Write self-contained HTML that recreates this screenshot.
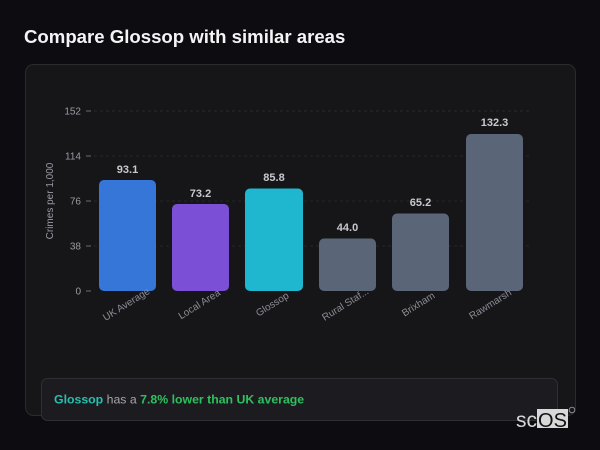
<!DOCTYPE html>
<html><head><meta charset="utf-8"><style>
html,body{margin:0;padding:0;background:#0d0d11;}
svg{display:block;}
</style></head><body>
<svg width="600" height="450" viewBox="0 0 600 450" xmlns="http://www.w3.org/2000/svg" font-family="'Liberation Sans', sans-serif">
<rect x="0" y="0" width="600" height="450" fill="#0d0d11"/>
<text x="24" y="43" font-size="18.6" font-weight="bold" fill="#f4f4f6">Compare Glossop with similar areas</text>
<rect x="25.5" y="64.5" width="550" height="351" rx="8" fill="#161619" stroke="#2a2a2f" stroke-width="1"/>
<!-- grid -->
<g stroke="#25252a" stroke-width="1" stroke-dasharray="3,3">
<line x1="94" y1="111" x2="530" y2="111" stroke="#2a2a30"/>
<line x1="94" y1="156" x2="530" y2="156"/>
<line x1="94" y1="201" x2="530" y2="201"/>
<line x1="94" y1="246" x2="530" y2="246"/>
</g>
<g stroke="#6a6a72" stroke-width="1">
<line x1="86" y1="111" x2="91" y2="111"/>
<line x1="86" y1="156" x2="91" y2="156"/>
<line x1="86" y1="201" x2="91" y2="201"/>
<line x1="86" y1="246" x2="91" y2="246"/>
<line x1="86" y1="291" x2="91" y2="291"/>
</g>
<g font-size="10" fill="#9a9aa2" text-anchor="end">
<text x="81" y="114.5">152</text>
<text x="81" y="159.5">114</text>
<text x="81" y="204.5">76</text>
<text x="81" y="249.5">38</text>
<text x="81" y="294.5">0</text>
</g>
<text transform="translate(53,201) rotate(-90)" text-anchor="middle" font-size="10" fill="#9a9aa2">Crimes per 1,000</text>
<!-- bars -->
<rect x="99" y="180" width="57" height="111" rx="5" fill="#3676d9"/>
<rect x="172" y="204" width="57" height="87" rx="5" fill="#7b50d6"/>
<rect x="245" y="188.5" width="58" height="102.5" rx="5" fill="#1fb7d0"/>
<rect x="319" y="238.5" width="57" height="52.5" rx="5" fill="#5a6577"/>
<rect x="392" y="213.5" width="57" height="77.5" rx="5" fill="#5a6577"/>
<rect x="466" y="134" width="57" height="157" rx="5" fill="#5a6577"/>
<!-- values -->
<g font-size="11" font-weight="bold" fill="#c8c8d0" text-anchor="middle">
<text x="127.5" y="173">93.1</text>
<text x="200.5" y="197">73.2</text>
<text x="274" y="181">85.8</text>
<text x="347.5" y="231">44.0</text>
<text x="420.5" y="206">65.2</text>
<text x="494.5" y="126">132.3</text>
</g>
<!-- x labels -->
<g font-size="10" fill="#8c8c96" text-anchor="middle">
<text transform="translate(128,307) rotate(-32)">UK Average</text>
<text transform="translate(201,307) rotate(-32)">Local Area</text>
<text transform="translate(274,307) rotate(-32)">Glossop</text>
<text transform="translate(347,307) rotate(-32)">Rural Staf...</text>
<text transform="translate(420,307) rotate(-32)">Brixham</text>
<text transform="translate(492,307) rotate(-32)">Rawmarsh</text>
</g>
<!-- callout -->
<rect x="41.5" y="378.5" width="516" height="42" rx="6" fill="#1c1c20" stroke="#2f2f35" stroke-width="1"/>
<text x="54" y="403.5" font-size="12.3"><tspan font-weight="bold" fill="#27bfae">Glossop</tspan><tspan fill="#a4a4ac"> has a </tspan><tspan font-weight="bold" fill="#2ec05e">7.8% lower than UK average</tspan></text>
<!-- logo -->
<text x="516" y="427" font-size="21" fill="#d6d6d6">sc</text>
<rect x="537" y="409" width="31" height="19" fill="#d8d8d8"/>
<text x="538" y="427" font-size="20" fill="#111114" textLength="29">OS</text>
<circle cx="572" cy="410" r="2.8" fill="none" stroke="#8a8a90" stroke-width="1"/>
</svg>
</body></html>
